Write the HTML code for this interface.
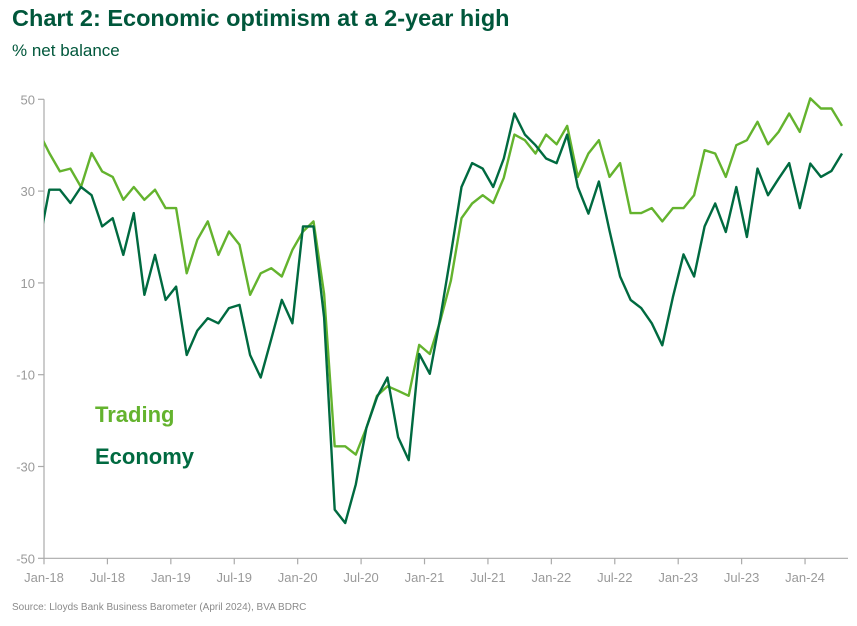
<!DOCTYPE html>
<html><head><meta charset="utf-8"><style>
html,body{margin:0;padding:0;background:#fff;}
body{width:857px;height:621px;overflow:hidden;font-family:"Liberation Sans",sans-serif;}
</style></head><body>
<svg id="chart" width="857" height="621" xmlns="http://www.w3.org/2000/svg">
<text x="12" y="26" font-family="Liberation Sans, sans-serif" font-weight="bold" font-size="23.5" fill="#00573b">Chart 2: Economic optimism at a 2-year high</text>
<text x="12" y="56" font-family="Liberation Sans, sans-serif" font-size="17" fill="#00573b">% net balance</text>
<text x="12" y="610" font-family="Liberation Sans, sans-serif" font-size="10" fill="#8a8a8a">Source: Lloyds Bank Business Barometer (April 2024), BVA BDRC</text>
<text x="95" y="422" font-family="Liberation Sans, sans-serif" font-weight="bold" font-size="22" fill="#64b32e">Trading</text>
<text x="95" y="464" font-family="Liberation Sans, sans-serif" font-weight="bold" font-size="22" fill="#006a40">Economy</text>
<defs><clipPath id="plotclip"><rect x="44" y="80" width="813" height="500"/></clipPath></defs>
<g id="axes"></g>
<g id="series" clip-path="url(#plotclip)"></g>
</svg>
<script>
// months from Dec-17 (index -1) to Apr-24 (index 75)
const startIndex = -1;
const tradingValues = [42.9,38.3,34.3,34.9,30.9,38.3,34.3,33.1,28.1,30.9,28.1,30.3,26.3,26.3,12.1,19.4,23.4,16.1,21.2,18.3,7.4,12.1,13.2,11.4,17.2,21.2,23.4,
7.6,-25.6,-25.6,-27.4,-21.6,-14.6,-12.5,-13.5,-14.6,-3.5,-5.5,1.8,10.5,24.1,27.3,29.1,27.4,32.9,42.3,41.1,38.2,42.3,40.2,
44.2,33.1,38.2,41.1,33.1,36.1,25.2,25.2,26.3,23.4,26.3,26.3,29.1,38.9,38.2,33.1,40.0,41.1,45.1,40.2,42.9,46.9,42.9,50.2,48,48,44.2];
const economyValues = [18.1,30.3,30.3,27.4,30.9,29.1,22.3,24.1,16.1,25.2,7.4,16.1,6.3,9.2,-5.7,-0.4,2.3,1.2,4.5,5.2,-5.7,-10.6,-2.2,6.3,1.2,22.3,22.3,
2.5,-39.4,-42.3,-33.9,-21.6,-14.9,-10.6,-23.6,-28.6,-5.5,-9.8,2.5,16.3,30.9,36.1,34.9,30.9,37.1,46.9,42.3,40,37.1,36.1,
42.3,30.9,25.1,32.1,21.4,11.4,6.3,4.5,1.2,-3.6,6.9,16.2,11.4,22.3,27.3,21.1,30.9,20,34.9,29.1,32.7,36.1,26.3,36.0,33.1,34.4,38.2];
const yTicks = [50,30,10,-10,-30,-50];
const xTickLabels = ["Jan-18","Jul-18","Jan-19","Jul-19","Jan-20","Jul-20","Jan-21","Jul-21","Jan-22","Jul-22","Jan-23","Jul-23","Jan-24"];

const NS="http://www.w3.org/2000/svg";
const step=10.57, x0=44;
function xTick(i){return x0+i*step;}
function xData(i){return x0+(i+0.5)*step;}
function y(v){return 99.3+(50-v)*4.59;}
function mk(tag,attrs,parent){const e=document.createElementNS(NS,tag);for(const k in attrs)e.setAttribute(k,attrs[k]);parent.appendChild(e);return e;}
const axes=document.getElementById('axes'), series=document.getElementById('series');

const yAxis=mk('line',{x1:x0,x2:x0,y1:y(50),y2:y(-50),stroke:'#aaaaaa','stroke-width':1.2},axes);


const xAxis=mk('line',{x1:x0,x2:848,y1:y(-50),y2:y(-50),stroke:'#aaaaaa','stroke-width':1.2},axes);



yTicks.forEach(v=>{
  const t=mk('line',{x1:x0-6,x2:x0,y1:y(v),y2:y(v),stroke:'#aaaaaa','stroke-width':1.2},axes);
  
  
  const l=mk('text',{x:x0-9,y:y(v)+5,'text-anchor':'end','font-size':13,fill:'#9a9a9a','font-family':'Liberation Sans, sans-serif'},axes);
  l.textContent=v;
  
  
});
xTickLabels.forEach((lab,k)=>{
  const i=k*6, xx=xTick(i);
  const t=mk('line',{x1:xx,x2:xx,y1:y(-50),y2:y(-50)+6,stroke:'#aaaaaa','stroke-width':1.2},axes);
  
  
  const l=mk('text',{x:xx,y:582,'text-anchor':'middle','font-size':13,fill:'#9a9a9a','font-family':'Liberation Sans, sans-serif'},axes);
  l.textContent=lab;
  
  
});
function pathFor(vals){return vals.map((v,k)=>(k?'L':'M')+xData(k+startIndex).toFixed(1)+','+y(v).toFixed(1)).join(' ');}
const tl=mk('path',{d:pathFor(tradingValues),fill:'none',stroke:'#64b32e','stroke-width':2.4,'stroke-linejoin':'round'},series);


const el=mk('path',{d:pathFor(economyValues),fill:'none',stroke:'#006a40','stroke-width':2.4,'stroke-linejoin':'round'},series);


</script>
</body></html>
